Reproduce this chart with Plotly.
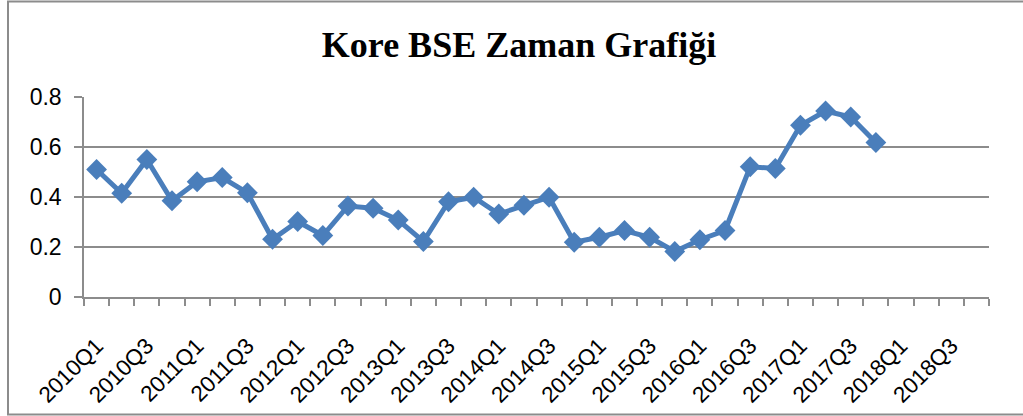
import plotly.graph_objects as go

years = list(range(2010, 2019))
quarters = [f"{y}Q{q}" for y in years for q in range(1, 5)]
tick_labels = [q if i % 2 == 0 else "" for i, q in enumerate(quarters)]

bse_values = [0.510, 0.415, 0.550, 0.385, 0.461, 0.478, 0.417, 0.231,
              0.302, 0.246, 0.364, 0.355, 0.308, 0.222, 0.381, 0.399,
              0.332, 0.367, 0.399, 0.219, 0.239, 0.266, 0.239, 0.182,
              0.229, 0.266, 0.521, 0.514, 0.687, 0.744, 0.720, 0.618]
bse_quarters = quarters[:len(bse_values)]

title_text = "Kore BSE Zaman Grafiği"
y_ticks = [0, 0.2, 0.4, 0.6, 0.8]
y_tick_text = ["0", "0.2", "0.4", "0.6", "0.8"]

blue = "#4A7EBB"
grid = "#8C8C8C"

fig = go.Figure()
fig.add_trace(go.Scatter(
    x=bse_quarters, y=bse_values, mode="lines+markers",
    line=dict(color=blue, width=5),
    marker=dict(symbol="diamond", size=16, color=blue),
    showlegend=False, hoverinfo="x+y",
))

fig.update_layout(
    width=1023, height=416,
    margin=dict(l=84, r=34, t=97, b=119),
    paper_bgcolor="white", plot_bgcolor="white",
    title=dict(text=f"<b>{title_text}</b>", x=519 / 1023, xref="container",
               xanchor="center", y=1 - 44 / 416, yanchor="middle",
               font=dict(family="Liberation Serif", size=36, color="black")),
    font=dict(family="Liberation Sans", color="black"),
)

fig.update_xaxes(
    type="category", categoryorder="array", categoryarray=quarters,
    range=[-0.5, len(quarters) - 0.5],
    tickvals=quarters, ticktext=tick_labels,
    tickson="boundaries", ticks="outside", ticklen=7, tickwidth=1.5, tickcolor=grid,
    tickangle=-45, tickfont=dict(family="Liberation Sans", size=22.5, color="black"),
    ticklabelstandoff=25, automargin=False,
    showline=True, linecolor=grid, linewidth=1.5,
    showgrid=False, zeroline=False,
)
fig.update_yaxes(
    range=[0, 0.8], tickvals=y_ticks, ticktext=y_tick_text,
    ticks="outside", ticklen=8, tickwidth=1.5, tickcolor=grid,
    tickfont=dict(family="Liberation Sans", size=23, color="black"),
    ticklabelstandoff=8, automargin=False,
    showline=True, linecolor=grid, linewidth=1.5,
    showgrid=True, gridcolor=grid, gridwidth=1.5, zeroline=False,
)

# outer chart frame
fig.add_shape(type="rect", xref="paper", yref="paper",
              x0=(8 - 84) / 905, x1=(1030 - 84) / 905,
              y0=(297 - 414.5) / 200, y1=(297 - 1.5) / 200,
              line=dict(color="#8C8C8C", width=2), fillcolor="rgba(0,0,0,0)", layer="below")

fig.write_html("out.html", config={"displayModeBar": False},
               post_script="document.body.style.margin='0';document.body.style.overflow='hidden';")
